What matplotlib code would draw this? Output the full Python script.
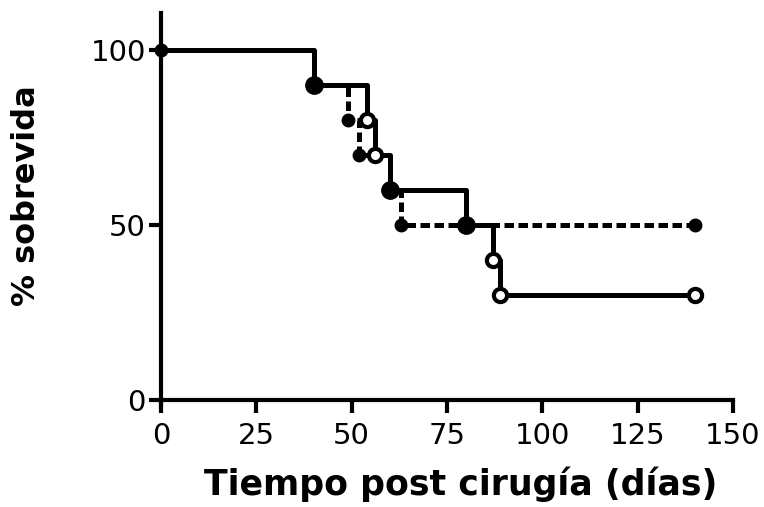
import numpy as np
import matplotlib
matplotlib.use("Agg")
from matplotlib import pyplot as plt

# survival curves (% alive)
t_solid = [0, 40, 54, 56, 60, 80, 87, 89, 140]
s_solid = [100, 90, 80, 70, 60, 50, 40, 30, 30]
t_dash = [0, 40, 49, 52, 60, 63, 140]
s_dash = [100, 90, 80, 70, 60, 50, 50]

# markers
open_x = [54, 56, 87, 89, 140]
open_y = [80, 70, 40, 30, 30]
small_x = [0, 49, 52, 63, 140]
small_y = [100, 80, 70, 50, 50]
big_x = [40, 60, 80]
big_y = [90, 60, 50]

xticks = [0, 25, 50, 75, 100, 125, 150]
yticks = [0, 50, 100]

fig = plt.figure(figsize=(7.64, 5.07), dpi=100)
ax = fig.add_axes([0.2107, 0.2007, 0.7487, 0.7732])

ax.step(t_solid, s_solid, where="post", color="black", lw=3.6, solid_capstyle="butt")
ax.step(t_dash, s_dash, where="post", color="black", lw=3.6, ls=(0, (1.9, 0.9)))

ax.plot(open_x, open_y, "o", ms=9.5, mfc="white", mec="black", mew=3, clip_on=False, zorder=5)
ax.plot(small_x, small_y, "o", ms=9, color="black", clip_on=False, zorder=6)
ax.plot(big_x, big_y, "o", ms=12.5, color="black", clip_on=False, zorder=6)

ax.set_xlim(0, 150)
ax.set_ylim(-1.5, 110.5)
ax.spines["top"].set_visible(False)
ax.spines["right"].set_visible(False)
ax.spines["bottom"].set_position(("data", 0))
for s in ["left", "bottom"]:
    ax.spines[s].set_linewidth(3)

ax.set_xticks(xticks)
ax.set_yticks(yticks)
ax.tick_params(axis="both", length=9, width=3, labelsize=21)
ax.tick_params(axis="x", pad=7)
ax.tick_params(axis="y", pad=2)

ax.set_xlabel("Tiempo post cirugía (días)", fontsize=25, fontweight="bold")
ax.set_ylabel("% sobrevida", fontsize=23, fontweight="bold")
ax.xaxis.set_label_coords(0.524, -0.155)
ax.yaxis.set_label_coords(-0.208, 0.534)

fig.savefig("out.png", dpi=100)
